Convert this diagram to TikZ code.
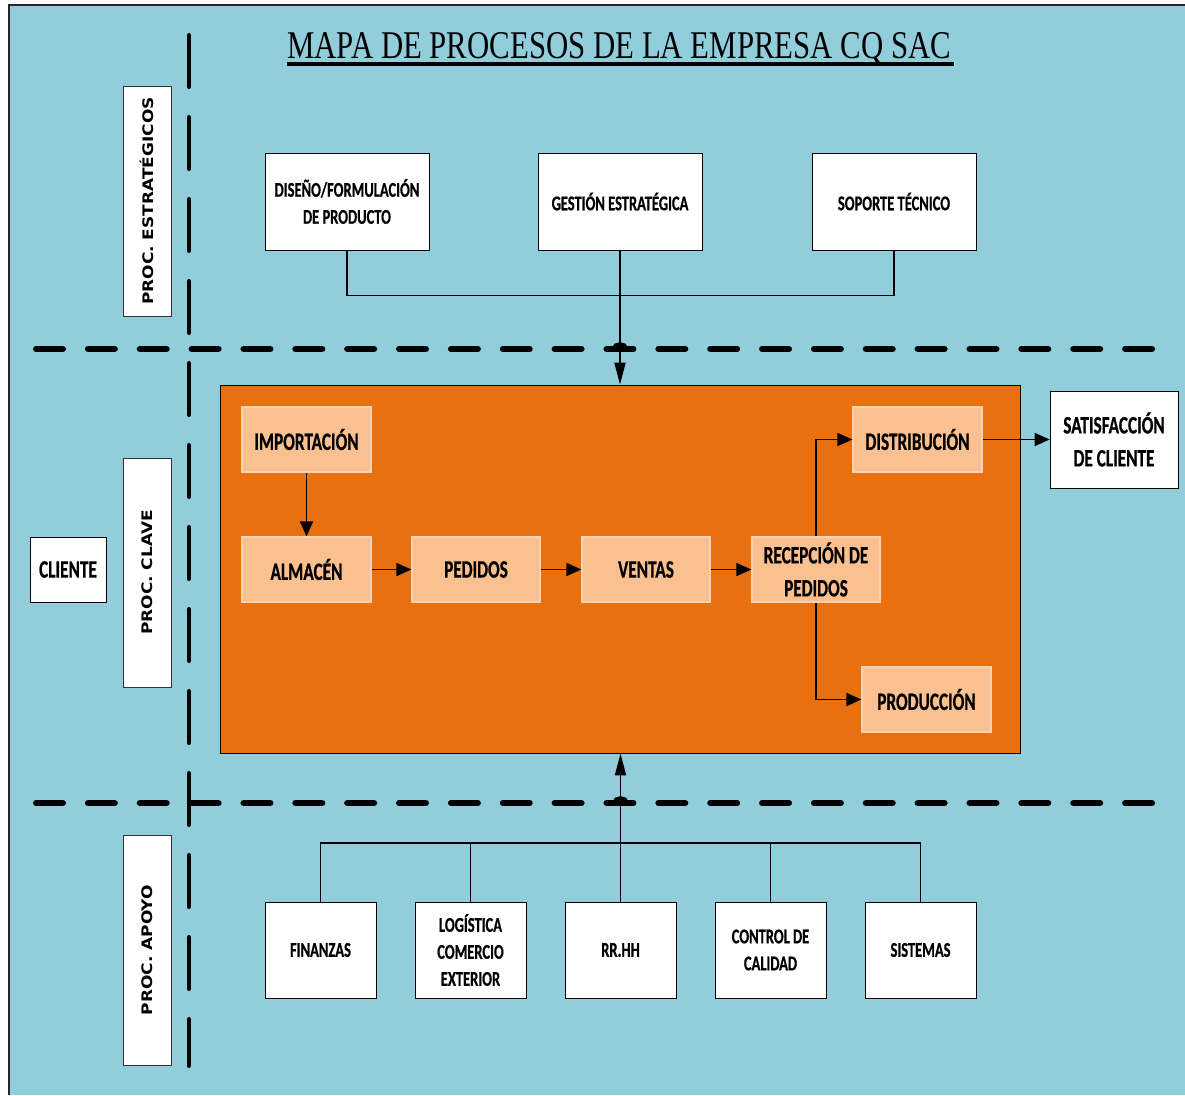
\documentclass[tikz,border=0pt]{standalone}
\usepackage{fontspec}
\usepackage{graphicx}
\usetikzlibrary{arrows.meta}
\setmainfont{Carlito}
\newfontfamily\boxfont[FakeStretch=0.69,FakeBold=0.6]{Carlito Bold}
\newfontfamily\titlefont{Liberation Serif}
\newfontfamily\sidefont{DejaVu Sans Bold}
\definecolor{bgblue}{HTML}{92CDDC}
\definecolor{orangebox}{HTML}{E8700E}
\definecolor{peach}{HTML}{FAC090}
\definecolor{peachline}{HTML}{FBD3B4}
\tikzset{
  wbox/.style={draw=black, fill=white, line width=0.8pt, align=center, inner sep=0pt},
  bigtxt/.style={font=\boxfont\fontsize{25}{33}\selectfont},
  smalltxt/.style={font=\boxfont\fontsize{21}{27}\selectfont},
  stratbox/.style={wbox, smalltxt, minimum width=164pt, minimum height=97pt},
  supbox/.style={wbox, smalltxt, minimum width=111pt, minimum height=96pt},
  sidebox/.style={draw=black!80, fill=white, line width=0.8pt, minimum width=48pt, minimum height=230pt, inner sep=0pt},
  pbox/.style={draw=peachline, fill=peach, line width=1.2pt, bigtxt, align=center, minimum height=65pt, inner sep=0pt},
  conn/.style={line width=1.8pt, draw=black},
  bigarrow/.style={conn, -{Triangle[length=22pt,width=11pt]}},
  inarrow/.style={conn, -{Triangle[length=15pt,width=13pt]}},
  hdash/.style={line width=6.5pt, line cap=round, dash pattern=on 26.5pt off 25.36pt},
  vdash/.style={line width=4.5pt, line cap=round, dash pattern=on 51.5pt off 30.5pt},
  hop/.style={line width=4.5pt, line cap=round}
}
\begin{document}
\begin{tikzpicture}[x=1pt,y=-1pt]
\useasboundingbox (0,0) rectangle (1185,1095);
% background
\fill[white] (0,0) rectangle (1185,1095);
\fill[bgblue] (9,5) rectangle (1185,1095);
\draw[line width=2pt, black!85] (9,1095) -- (9,5) -- (1185,5);

% title
\node[anchor=base west, inner sep=0pt] (title) at (287,58)
  {\resizebox{664pt}{26pt}{\titlefont MAPA DE PROCESOS DE LA EMPRESA CQ SAC}};
\draw[line width=4pt] (287,63.5) -- (954,63.5);

% dashed separators
\draw[vdash] (189,35.25) -- (189,1065.75);
\draw[hdash] (36.25,349) -- (1152.75,349);
\draw[hdash] (36.25,803) -- (1152.75,803);

% side labels
\node[sidebox] (est) at (147,201) {};
\node[rotate=90, inner sep=0pt] at (est.center) {\sidefont\fontsize{14.5}{16}\selectfont\scalebox{1.17}[1]{PROC.\ ESTRATÉGICOS}};
\node[sidebox, minimum height=229pt] (cla) at (147,572.5) {};
\node[rotate=90, inner sep=0pt] at (cla.center) {\sidefont\fontsize{14.5}{16}\selectfont\scalebox{1.17}[1]{PROC.\ CLAVE}};
\node[sidebox] (apo) at (147,950) {};
\node[rotate=90, inner sep=0pt] at (apo.center) {\sidefont\fontsize{14.5}{16}\selectfont\scalebox{1.17}[1]{PROC.\ APOYO}};

% strategic boxes
\node[stratbox] (dis) at (347,201.5) {DISEÑO/FORMULACIÓN\\DE PRODUCTO};
\node[stratbox] (ges) at (620,201.5) {GESTIÓN ESTRATÉGICA};
\node[stratbox] (sop) at (894,201.5) {SOPORTE TÉCNICO};

% client boxes
\node[wbox, bigtxt, minimum width=76pt, minimum height=65pt] (cli) at (68,569.5) {CLIENTE};
\node[wbox, bigtxt, minimum width=128pt, minimum height=97pt] (sat) at (1114,439.5) {SATISFACCIÓN\\DE CLIENTE};

% key process container
\node[draw=black, fill=orangebox, line width=0.8pt, minimum width=800pt, minimum height=368pt, inner sep=0pt] (key) at (620,569) {};

\node[pbox, minimum width=129pt] (imp) at (306.5,439.5) {IMPORTACIÓN};
\node[pbox, minimum width=129pt] (alm) at (306.5,569.5) {ALMACÉN};
\node[pbox, minimum width=128pt] (ped) at (476,569.5) {PEDIDOS};
\node[pbox, minimum width=128pt] (ven) at (646,569.5) {VENTAS};
\node[pbox, minimum width=128pt] (rec) at (816,569.5) {RECEPCIÓN DE\\PEDIDOS};
\node[pbox, minimum width=129pt] (dist) at (917.5,439.5) {DISTRIBUCIÓN};
\node[pbox, minimum width=129pt] (prod) at (926.5,699.5) {PRODUCCIÓN};

% support boxes
\node[supbox] (fin) at (320.5,950) {FINANZAS};
\node[supbox] (log) at (470.5,950) {LOGÍSTICA\\COMERCIO\\EXTERIOR};
\node[supbox] (rrh) at (620.5,950) {RR.HH};
\node[supbox] (cal) at (770.5,950) {CONTROL DE\\CALIDAD};
\node[supbox] (sis) at (920.5,950) {SISTEMAS};

% strategic connectors
\draw[conn] (dis.south) -- ++(0,45) -| (sop.south);
\draw[bigarrow] (ges.south) -- (ges.south |- key.north);
\draw[hop] (614,349) .. controls (614,343) and (626,343) .. (626,349);

% support connectors
\draw[conn] (fin.north) -- ++(0,-59) -| (sis.north);
\draw[conn] (log.north) -- ++(0,-59);
\draw[conn] (cal.north) -- ++(0,-59);
\draw[bigarrow] (rrh.north) -- (rrh.north |- key.south);
\draw[hop] (614.5,803) .. controls (614.5,797) and (626.5,797) .. (626.5,803);

% key process flow
\draw[inarrow] (imp.south) -- (alm.north);
\draw[inarrow] (alm.east) -- (ped.west);
\draw[inarrow] (ped.east) -- (ven.west);
\draw[inarrow] (ven.east) -- (rec.west);
\draw[inarrow] (rec.north) |- (dist.west);
\draw[inarrow] (rec.south) |- (prod.west);
\draw[inarrow] (dist.east) -- (sat.west);
\end{tikzpicture}
\end{document}
